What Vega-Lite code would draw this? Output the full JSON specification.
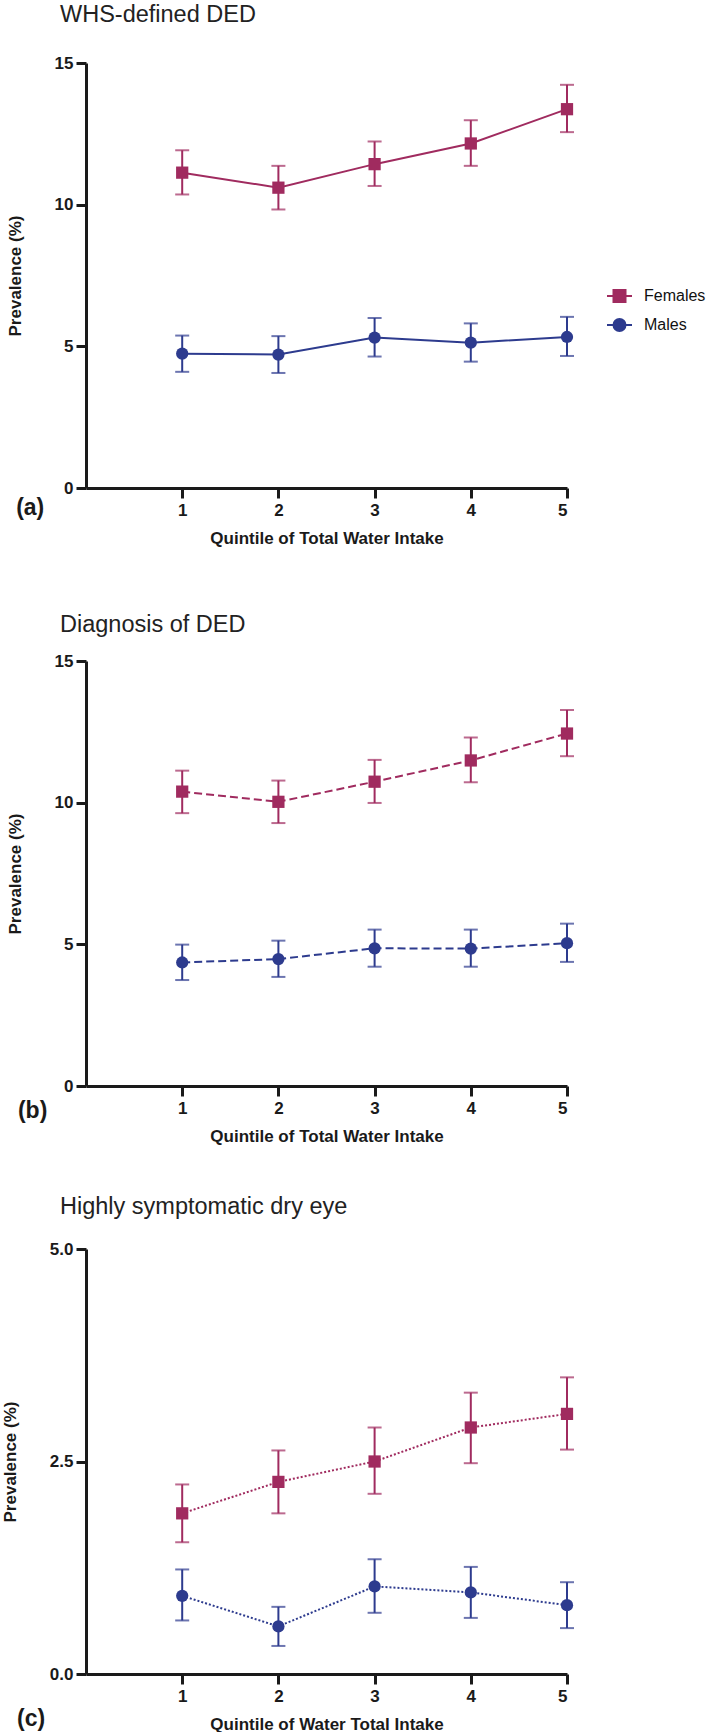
{
  "$schema": "https://vega.github.io/schema/vega-lite/v6.json",
  "background": "white",
  "padding": {"left": 1, "top": 2, "right": 0, "bottom": 0},
  "datasets": {
    "whs": [
      {"q": 1, "sex": "Females", "prev": 11.13, "lo": 10.36, "hi": 11.92},
      {"q": 2, "sex": "Females", "prev": 10.60, "lo": 9.83, "hi": 11.37},
      {"q": 3, "sex": "Females", "prev": 11.43, "lo": 10.66, "hi": 12.23},
      {"q": 4, "sex": "Females", "prev": 12.16, "lo": 11.37, "hi": 12.98},
      {"q": 5, "sex": "Females", "prev": 13.37, "lo": 12.56, "hi": 14.23},
      {"q": 1, "sex": "Males", "prev": 4.74, "lo": 4.10, "hi": 5.38},
      {"q": 2, "sex": "Males", "prev": 4.71, "lo": 4.06, "hi": 5.36},
      {"q": 3, "sex": "Males", "prev": 5.31, "lo": 4.64, "hi": 6.00},
      {"q": 4, "sex": "Males", "prev": 5.13, "lo": 4.46, "hi": 5.81},
      {"q": 5, "sex": "Males", "prev": 5.33, "lo": 4.66, "hi": 6.04}
    ],
    "diag": [
      {"q": 1, "sex": "Females", "prev": 10.39, "lo": 9.63, "hi": 11.13},
      {"q": 2, "sex": "Females", "prev": 10.03, "lo": 9.28, "hi": 10.78},
      {"q": 3, "sex": "Females", "prev": 10.74, "lo": 9.99, "hi": 11.51},
      {"q": 4, "sex": "Females", "prev": 11.49, "lo": 10.72, "hi": 12.30},
      {"q": 5, "sex": "Females", "prev": 12.44, "lo": 11.64, "hi": 13.27},
      {"q": 1, "sex": "Males", "prev": 4.36, "lo": 3.74, "hi": 4.99},
      {"q": 2, "sex": "Males", "prev": 4.48, "lo": 3.85, "hi": 5.13},
      {"q": 3, "sex": "Males", "prev": 4.86, "lo": 4.21, "hi": 5.52},
      {"q": 4, "sex": "Males", "prev": 4.85, "lo": 4.21, "hi": 5.52},
      {"q": 5, "sex": "Males", "prev": 5.04, "lo": 4.38, "hi": 5.73}
    ],
    "sym": [
      {"q": 1, "sex": "Females", "prev": 1.89, "lo": 1.55, "hi": 2.23},
      {"q": 2, "sex": "Females", "prev": 2.26, "lo": 1.89, "hi": 2.63},
      {"q": 3, "sex": "Females", "prev": 2.50, "lo": 2.12, "hi": 2.90},
      {"q": 4, "sex": "Females", "prev": 2.90, "lo": 2.48, "hi": 3.31},
      {"q": 5, "sex": "Females", "prev": 3.06, "lo": 2.64, "hi": 3.49},
      {"q": 1, "sex": "Males", "prev": 0.92, "lo": 0.63, "hi": 1.23},
      {"q": 2, "sex": "Males", "prev": 0.56, "lo": 0.33, "hi": 0.79},
      {"q": 3, "sex": "Males", "prev": 1.03, "lo": 0.72, "hi": 1.35},
      {"q": 4, "sex": "Males", "prev": 0.96, "lo": 0.66, "hi": 1.26},
      {"q": 5, "sex": "Males", "prev": 0.81, "lo": 0.54, "hi": 1.08}
    ]
  },
  "spacing": 66,
  "vconcat": [
    {
      "width": 481, "height": 425,
      "title": {"text": "WHS-defined DED", "offset": 28},
      "data": {"name": "whs"},
      "layer": [
        {"mark": {"type": "line", "strokeWidth": 2},
         "encoding": {
           "x": {"field": "q", "type": "quantitative", "scale": {"domain": [0, 5], "nice": false}, "axis": {"values": [1, 2, 3, 4, 5], "format": "d", "title": "Quintile of Total Water Intake"}},
           "y": {"field": "prev", "type": "quantitative", "scale": {"domain": [0, 15], "nice": false}, "axis": {"values": [0, 5, 10, 15], "title": "Prevalence (%)"}},
           "color": {"field": "sex", "type": "nominal", "scale": {"domain": ["Females", "Males"], "range": ["#a02b5f", "#2d3b8e"]}, "legend": {
             "orient": "none", "legendX": 520, "legendY": 219.5, "title": null,
             "encode": {"symbols": {"update": {
               "shape": {"signal": "datum.value === 'Females' ? 'M-1,0H1M-0.48,-0.48H0.48V0.48H-0.48Z' : 'M-1,0H1M0.48,0A0.48,0.48,0,1,1,-0.48,0A0.48,0.48,0,1,1,0.48,0Z'"},
               "fill": {"signal": "datum.value === 'Females' ? '#a02b5f' : '#2d3b8e'"},
               "stroke": {"signal": "datum.value === 'Females' ? '#a02b5f' : '#2d3b8e'"},
               "strokeWidth": {"value": 2}, "opacity": {"value": 1}}}}}}}},
        {"mark": {"type": "rule", "strokeWidth": 2},
         "encoding": {
           "x": {"field": "q", "type": "quantitative", "scale": {"domain": [0, 5], "nice": false}, "title": "Quintile of Total Water Intake"},
           "y": {"field": "lo", "type": "quantitative", "scale": {"domain": [0, 15], "nice": false}, "title": "Prevalence (%)"},
           "y2": {"field": "hi"},
           "color": {"field": "sex", "type": "nominal"}}},
        {"mark": {"type": "tick", "orient": "horizontal", "size": 14, "thickness": 2},
         "encoding": {
           "x": {"field": "q", "type": "quantitative", "scale": {"domain": [0, 5], "nice": false}, "title": "Quintile of Total Water Intake"},
           "y": {"field": "lo", "type": "quantitative", "scale": {"domain": [0, 15], "nice": false}, "title": "Prevalence (%)"},
           "color": {"field": "sex", "type": "nominal"}}},
        {"mark": {"type": "tick", "orient": "horizontal", "size": 14, "thickness": 2},
         "encoding": {
           "x": {"field": "q", "type": "quantitative", "scale": {"domain": [0, 5], "nice": false}, "title": "Quintile of Total Water Intake"},
           "y": {"field": "hi", "type": "quantitative", "scale": {"domain": [0, 15], "nice": false}, "title": "Prevalence (%)"},
           "color": {"field": "sex", "type": "nominal"}}},
        {"transform": [{"filter": "datum.sex === 'Females'"}],
         "mark": {"type": "point", "shape": "square", "filled": true, "size": 150, "opacity": 1},
         "encoding": {
           "x": {"field": "q", "type": "quantitative", "scale": {"domain": [0, 5], "nice": false}, "title": "Quintile of Total Water Intake"},
           "y": {"field": "prev", "type": "quantitative", "scale": {"domain": [0, 15], "nice": false}, "title": "Prevalence (%)"},
           "color": {"field": "sex", "type": "nominal"}}},
        {"transform": [{"filter": "datum.sex === 'Males'"}],
         "mark": {"type": "point", "shape": "circle", "filled": true, "size": 150, "opacity": 1},
         "encoding": {
           "x": {"field": "q", "type": "quantitative", "scale": {"domain": [0, 5], "nice": false}, "title": "Quintile of Total Water Intake"},
           "y": {"field": "prev", "type": "quantitative", "scale": {"domain": [0, 15], "nice": false}, "title": "Prevalence (%)"},
           "color": {"field": "sex", "type": "nominal"}}},
        {"data": {"values": [{"label": "(a)"}]},
         "mark": {"type": "text", "fontSize": 23, "fontWeight": "bold", "color": "#1a1a1a", "align": "center", "baseline": "middle"},
         "encoding": {
           "x": {"datum": -0.58, "type": "quantitative", "scale": {"domain": [0, 5], "nice": false}},
           "y": {"datum": -0.70, "type": "quantitative", "scale": {"domain": [0, 15], "nice": false}},
           "text": {"field": "label"}}}
      ]
    },
    {
      "spacing": 50,
      "vconcat": [
        {
          "width": 481, "height": 425,
          "title": {"text": "Diagnosis of DED", "offset": 16},
          "data": {"name": "diag"},
          "layer": [
            {"mark": {"type": "line", "strokeWidth": 2, "strokeDash": [8, 4]},
             "encoding": {
               "x": {"field": "q", "type": "quantitative", "scale": {"domain": [0, 5], "nice": false}, "axis": {"values": [1, 2, 3, 4, 5], "format": "d", "title": "Quintile of Total Water Intake"}},
               "y": {"field": "prev", "type": "quantitative", "scale": {"domain": [0, 15], "nice": false}, "axis": {"values": [0, 5, 10, 15], "title": "Prevalence (%)"}},
               "color": {"field": "sex", "type": "nominal", "scale": {"domain": ["Females", "Males"], "range": ["#a02b5f", "#2d3b8e"]}, "legend": {
                 "orient": "none", "legendX": 520, "legendY": 219.5, "title": null,
                 "encode": {"symbols": {"update": {
                   "shape": {"signal": "datum.value === 'Females' ? 'M-1,0H1M-0.48,-0.48H0.48V0.48H-0.48Z' : 'M-1,0H1M0.48,0A0.48,0.48,0,1,1,-0.48,0A0.48,0.48,0,1,1,0.48,0Z'"},
                   "fill": {"signal": "datum.value === 'Females' ? '#a02b5f' : '#2d3b8e'"},
                   "stroke": {"signal": "datum.value === 'Females' ? '#a02b5f' : '#2d3b8e'"},
                   "strokeDash": {"value": [5, 3]},
                   "strokeWidth": {"value": 2}, "opacity": {"value": 1}}}}}}}},
            {"mark": {"type": "rule", "strokeWidth": 2},
             "encoding": {
               "x": {"field": "q", "type": "quantitative", "scale": {"domain": [0, 5], "nice": false}, "title": "Quintile of Total Water Intake"},
               "y": {"field": "lo", "type": "quantitative", "scale": {"domain": [0, 15], "nice": false}, "title": "Prevalence (%)"},
               "y2": {"field": "hi"},
               "color": {"field": "sex", "type": "nominal"}}},
            {"mark": {"type": "tick", "orient": "horizontal", "size": 14, "thickness": 2},
             "encoding": {
               "x": {"field": "q", "type": "quantitative", "scale": {"domain": [0, 5], "nice": false}, "title": "Quintile of Total Water Intake"},
               "y": {"field": "lo", "type": "quantitative", "scale": {"domain": [0, 15], "nice": false}, "title": "Prevalence (%)"},
               "color": {"field": "sex", "type": "nominal"}}},
            {"mark": {"type": "tick", "orient": "horizontal", "size": 14, "thickness": 2},
             "encoding": {
               "x": {"field": "q", "type": "quantitative", "scale": {"domain": [0, 5], "nice": false}, "title": "Quintile of Total Water Intake"},
               "y": {"field": "hi", "type": "quantitative", "scale": {"domain": [0, 15], "nice": false}, "title": "Prevalence (%)"},
               "color": {"field": "sex", "type": "nominal"}}},
            {"transform": [{"filter": "datum.sex === 'Females'"}],
             "mark": {"type": "point", "shape": "square", "filled": true, "size": 150, "opacity": 1},
             "encoding": {
               "x": {"field": "q", "type": "quantitative", "scale": {"domain": [0, 5], "nice": false}, "title": "Quintile of Total Water Intake"},
               "y": {"field": "prev", "type": "quantitative", "scale": {"domain": [0, 15], "nice": false}, "title": "Prevalence (%)"},
               "color": {"field": "sex", "type": "nominal"}}},
            {"transform": [{"filter": "datum.sex === 'Males'"}],
             "mark": {"type": "point", "shape": "circle", "filled": true, "size": 150, "opacity": 1},
             "encoding": {
               "x": {"field": "q", "type": "quantitative", "scale": {"domain": [0, 5], "nice": false}, "title": "Quintile of Total Water Intake"},
               "y": {"field": "prev", "type": "quantitative", "scale": {"domain": [0, 15], "nice": false}, "title": "Prevalence (%)"},
               "color": {"field": "sex", "type": "nominal"}}},
            {"data": {"values": [{"label": "(b)"}]},
             "mark": {"type": "text", "fontSize": 23, "fontWeight": "bold", "color": "#1a1a1a", "align": "center", "baseline": "middle"},
             "encoding": {
               "x": {"datum": -0.555, "type": "quantitative", "scale": {"domain": [0, 5], "nice": false}},
               "y": {"datum": -0.89, "type": "quantitative", "scale": {"domain": [0, 15], "nice": false}},
               "text": {"field": "label"}}}
          ]
        },
        {
          "width": 481, "height": 425,
          "title": {"text": "Highly symptomatic dry eye", "offset": 22},
          "data": {"name": "sym"},
          "layer": [
            {"mark": {"type": "line", "strokeWidth": 2, "strokeDash": [2, 2]},
             "encoding": {
               "x": {"field": "q", "type": "quantitative", "scale": {"domain": [0, 5], "nice": false}, "axis": {"values": [1, 2, 3, 4, 5], "format": "d", "title": "Quintile of Water Total Intake"}},
               "y": {"field": "prev", "type": "quantitative", "scale": {"domain": [0, 5], "nice": false}, "axis": {"values": [0, 2.5, 5], "format": ".1f", "title": "Prevalence (%)"}},
               "color": {"field": "sex", "type": "nominal", "scale": {"domain": ["Females", "Males"], "range": ["#a02b5f", "#2d3b8e"]}, "legend": {
                 "orient": "none", "legendX": 520, "legendY": 219.5, "title": null,
                 "encode": {"symbols": {"update": {
                   "shape": {"signal": "datum.value === 'Females' ? 'M-1,0H1M-0.48,-0.48H0.48V0.48H-0.48Z' : 'M-1,0H1M0.48,0A0.48,0.48,0,1,1,-0.48,0A0.48,0.48,0,1,1,0.48,0Z'"},
                   "fill": {"signal": "datum.value === 'Females' ? '#a02b5f' : '#2d3b8e'"},
                   "stroke": {"signal": "datum.value === 'Females' ? '#a02b5f' : '#2d3b8e'"},
                   "strokeDash": {"value": [2, 2]},
                   "strokeWidth": {"value": 2}, "opacity": {"value": 1}}}}}}}},
            {"mark": {"type": "rule", "strokeWidth": 2},
             "encoding": {
               "x": {"field": "q", "type": "quantitative", "scale": {"domain": [0, 5], "nice": false}, "title": "Quintile of Water Total Intake"},
               "y": {"field": "lo", "type": "quantitative", "scale": {"domain": [0, 5], "nice": false}, "title": "Prevalence (%)"},
               "y2": {"field": "hi"},
               "color": {"field": "sex", "type": "nominal"}}},
            {"mark": {"type": "tick", "orient": "horizontal", "size": 14, "thickness": 2},
             "encoding": {
               "x": {"field": "q", "type": "quantitative", "scale": {"domain": [0, 5], "nice": false}, "title": "Quintile of Water Total Intake"},
               "y": {"field": "lo", "type": "quantitative", "scale": {"domain": [0, 5], "nice": false}, "title": "Prevalence (%)"},
               "color": {"field": "sex", "type": "nominal"}}},
            {"mark": {"type": "tick", "orient": "horizontal", "size": 14, "thickness": 2},
             "encoding": {
               "x": {"field": "q", "type": "quantitative", "scale": {"domain": [0, 5], "nice": false}, "title": "Quintile of Water Total Intake"},
               "y": {"field": "hi", "type": "quantitative", "scale": {"domain": [0, 5], "nice": false}, "title": "Prevalence (%)"},
               "color": {"field": "sex", "type": "nominal"}}},
            {"transform": [{"filter": "datum.sex === 'Females'"}],
             "mark": {"type": "point", "shape": "square", "filled": true, "size": 150, "opacity": 1},
             "encoding": {
               "x": {"field": "q", "type": "quantitative", "scale": {"domain": [0, 5], "nice": false}, "title": "Quintile of Water Total Intake"},
               "y": {"field": "prev", "type": "quantitative", "scale": {"domain": [0, 5], "nice": false}, "title": "Prevalence (%)"},
               "color": {"field": "sex", "type": "nominal"}}},
            {"transform": [{"filter": "datum.sex === 'Males'"}],
             "mark": {"type": "point", "shape": "circle", "filled": true, "size": 150, "opacity": 1},
             "encoding": {
               "x": {"field": "q", "type": "quantitative", "scale": {"domain": [0, 5], "nice": false}, "title": "Quintile of Water Total Intake"},
               "y": {"field": "prev", "type": "quantitative", "scale": {"domain": [0, 5], "nice": false}, "title": "Prevalence (%)"},
               "color": {"field": "sex", "type": "nominal"}}},
            {"data": {"values": [{"label": "(c)"}]},
             "mark": {"type": "text", "fontSize": 23, "fontWeight": "bold", "color": "#1a1a1a", "align": "center", "baseline": "middle"},
             "encoding": {
               "x": {"datum": -0.57, "type": "quantitative", "scale": {"domain": [0, 5], "nice": false}},
               "y": {"datum": -0.535, "type": "quantitative", "scale": {"domain": [0, 5], "nice": false}},
               "text": {"field": "label"}}}
          ]
        }
      ]
    }
  ],
  "config": {
    "view": {"stroke": null},
    "font": "Liberation Sans",
    "title": {"anchor": "start", "frame": "group", "dx": -26, "fontSize": 23.5, "fontWeight": "normal", "color": "#222222", "font": "Liberation Sans"},
    "axis": {"grid": false, "domainColor": "#1a1a1a", "domainWidth": 3, "tickColor": "#1a1a1a", "tickWidth": 3, "tickSize": 10,
             "labelFontWeight": "bold", "labelFontSize": 17, "labelColor": "#1a1a1a",
             "titleFontWeight": "bold", "titleFontSize": 17, "titleColor": "#1a1a1a"},
    "axisX": {"labelPadding": 4, "titlePadding": 12},
    "axisY": {"labelPadding": 3, "titlePadding": 29.5},
    "legend": {"symbolSize": 625, "symbolOpacity": 1, "labelFontSize": 16, "labelColor": "#111111", "labelOffset": 11, "rowPadding": 5, "padding": 0}
  }
}
